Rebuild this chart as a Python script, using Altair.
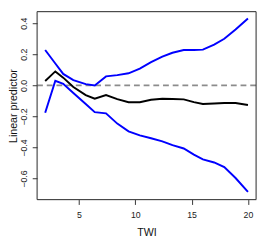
import altair as alt
import pandas as pd

x_vals = [2.0, 2.9, 3.6, 4.5, 5.6, 6.4, 7.4, 8.4, 9.4, 10.4, 11.4, 12.4, 13.3, 14.3, 15.2, 16.0, 17.0, 17.9, 18.9, 20.0]
fit = [0.028, 0.090, 0.050, -0.010, -0.062, -0.086, -0.062, -0.088, -0.108, -0.108, -0.092, -0.086, -0.088, -0.090, -0.108, -0.120, -0.116, -0.113, -0.113, -0.126]
upper = [0.228, 0.141, 0.074, 0.034, 0.008, 0.000, 0.058, 0.066, 0.078, 0.108, 0.150, 0.185, 0.210, 0.228, 0.228, 0.230, 0.262, 0.300, 0.360, 0.430]
lower = [-0.176, 0.030, 0.010, -0.049, -0.120, -0.172, -0.180, -0.246, -0.296, -0.322, -0.340, -0.360, -0.385, -0.406, -0.446, -0.476, -0.496, -0.526, -0.596, -0.686]
zero_line = [0.0]
x_ticks = [5, 10, 15, 20]
y_ticks = [-0.6, -0.4, -0.2, 0.0, 0.2, 0.4]

rows = []
for i, xv in enumerate(x_vals):
    rows.append({"x": xv, "y": fit[i], "s": "fit"})
    rows.append({"x": xv, "y": upper[i], "s": "upper"})
    rows.append({"x": xv, "y": lower[i], "s": "lower"})
df = pd.DataFrame(rows)

W, H = 226, 194

xs = alt.Scale(domain=[1.28, 20.72], nice=False, zero=False)
ys = alt.Scale(domain=[-0.735, 0.475], nice=False, zero=False)

FONT = "Liberation Sans"

x_axis = alt.Axis(values=x_ticks, title="TWI", domain=False, grid=False,
                  tickColor="#333333", tickSize=5, labelPadding=6,
                  labelFontSize=9, labelColor="#222222", labelFont=FONT,
                  titleFont=FONT, titleFontSize=11, titleFontWeight="normal",
                  titleColor="#111111", titlePadding=8, format="d")
y_axis = alt.Axis(values=y_ticks, title="Linear predictor", domain=False, grid=False,
                  tickColor="#333333", tickSize=5, labelPadding=4,
                  labelAngle=-90, labelAlign="center", labelBaseline="bottom",
                  labelFontSize=9, labelColor="#222222", labelFont=FONT,
                  titleFont=FONT, titleFontSize=11, titleFontWeight="normal",
                  titleColor="#111111", titleX=-24, titleBaseline="middle",
                  titleAngle=270, format=".1f")

frame = alt.Chart(pd.DataFrame({"a": [0]})).mark_rect(
    fillOpacity=0, stroke="#333333", strokeWidth=1
).encode(x=alt.value(0), x2=alt.value(W), y=alt.value(0), y2=alt.value(H))

zero = alt.Chart(pd.DataFrame({"y": zero_line})).mark_rule(
    color="#8c8c8c", strokeWidth=2, strokeDash=[6, 4]
).encode(y=alt.Y("y:Q", scale=ys, axis=y_axis))

lines = alt.Chart(df).mark_line(strokeWidth=2).encode(
    x=alt.X("x:Q", scale=xs, axis=x_axis),
    y=alt.Y("y:Q", scale=ys, axis=y_axis),
    color=alt.Color("s:N", scale=alt.Scale(domain=["fit", "upper", "lower"],
                                           range=["#000000", "#0000ff", "#0000ff"]), legend=None),
    detail="s:N",
)

chart = alt.layer(zero, lines, frame).properties(
    width=W, height=H,
    autosize=alt.AutoSizeParams(type="none"),
    padding={"left": 30, "top": 0, "right": 2, "bottom": 38},
).configure_view(stroke="#333333", strokeWidth=1).configure(background="white")

chart.save("out.html", embed_options={"renderer": "svg", "actions": False})
